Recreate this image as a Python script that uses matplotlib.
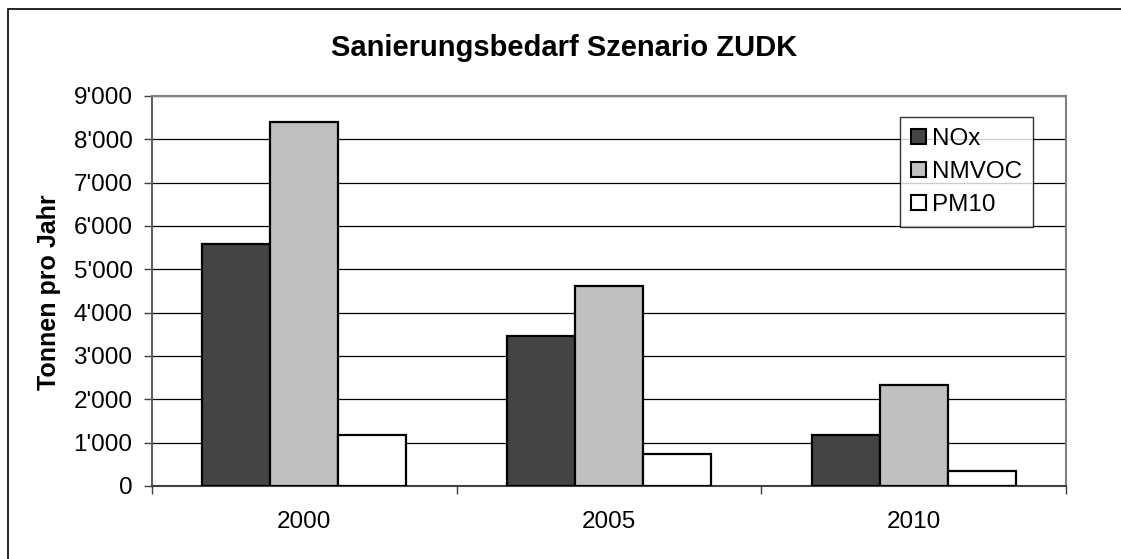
import matplotlib
matplotlib.use("Agg")
import matplotlib.pyplot as plt
from matplotlib.ticker import FuncFormatter, FixedLocator, NullFormatter
from matplotlib.patches import Rectangle, Patch

plt.rcParams['font.family'] = ['Liberation Sans', 'DejaVu Sans']

years = ["2000", "2005", "2010"]
nox = [5580, 3470, 1180]
nmvoc = [8390, 4610, 2330]
pm10 = [1170, 740, 355]
series = ["NOx", "NMVOC", "PM10"]
colors = ["#444444", "#c0c0c0", "#ffffff"]

W, H = 1121, 559
fig = plt.figure(figsize=(W / 100, H / 100), dpi=100)
ax = fig.add_axes([152 / W, 1 - 486 / H, (1066 - 152) / W, (486 - 96) / H])

width = 0.223
x = list(range(len(years)))
for i, (vals, name, c) in enumerate(zip([nox, nmvoc, pm10], series, colors)):
    pos = [xi + (i - 1) * width for xi in x]
    ax.bar(pos, vals, width=width, color=c, edgecolor="black", linewidth=1.6,
           label=name, zorder=3)

ax.set_xlim(-0.5, 2.5)
ax.set_ylim(0, 9000)
ax.set_yticks(range(0, 9001, 1000))
ax.yaxis.set_major_formatter(FuncFormatter(lambda v, p: f"{int(v):,}".replace(",", "'")))
ax.yaxis.grid(True, color="black", linewidth=0.9, zorder=0)
ax.set_axisbelow(True)

# category boundaries get the tick marks, labels sit in between
ax.xaxis.set_major_locator(FixedLocator([-0.5, 0.5, 1.5, 2.5]))
ax.xaxis.set_major_formatter(NullFormatter())
ax.xaxis.set_minor_locator(FixedLocator(x))
ax.set_xticklabels(years, minor=True)
ax.tick_params(axis="x", which="major", length=6, width=1, color="#404040")
ax.tick_params(axis="x", which="minor", length=0, pad=18, labelsize=17.5)
ax.tick_params(axis="y", length=6, width=1, color="#404040", pad=8, labelsize=17.5)

for s in ["top", "right"]:
    ax.spines[s].set_color("#808080")
    ax.spines[s].set_linewidth(1.5)
ax.spines["left"].set_color("#606060")
ax.spines["left"].set_linewidth(1.5)
ax.spines["bottom"].set_color("#404040")
ax.spines["bottom"].set_linewidth(1.5)

fig.text(564 / W, 1 - 56 / H, "Sanierungsbedarf Szenario ZUDK", ha="center",
         va="baseline", fontsize=21, fontweight="bold")
fig.text(49 / W, 1 - 292 / H, "Tonnen pro Jahr", ha="center", va="center",
         rotation=90, fontsize=18, fontweight="bold")

handles = [Patch(facecolor=c, edgecolor="black", linewidth=1.5) for c in colors]
leg = fig.legend(handles, series, loc="upper left",
                 bbox_to_anchor=(900 / W, 1 - 117 / H), fontsize=17.5,
                 frameon=True, fancybox=False, handlelength=0.6, handleheight=0.6,
                 handletextpad=0.25, labelspacing=0.45, borderpad=0.45,
                 borderaxespad=0)
leg.get_frame().set_edgecolor("black")
leg.get_frame().set_linewidth(1.0)

fig.patches.append(Rectangle((8 / W, -0.1), 1.2, 1 - 9 / H + 0.1, fill=False,
                             edgecolor="black", linewidth=1.2,
                             transform=fig.transFigure))

plt.savefig("out.png", dpi=100)
